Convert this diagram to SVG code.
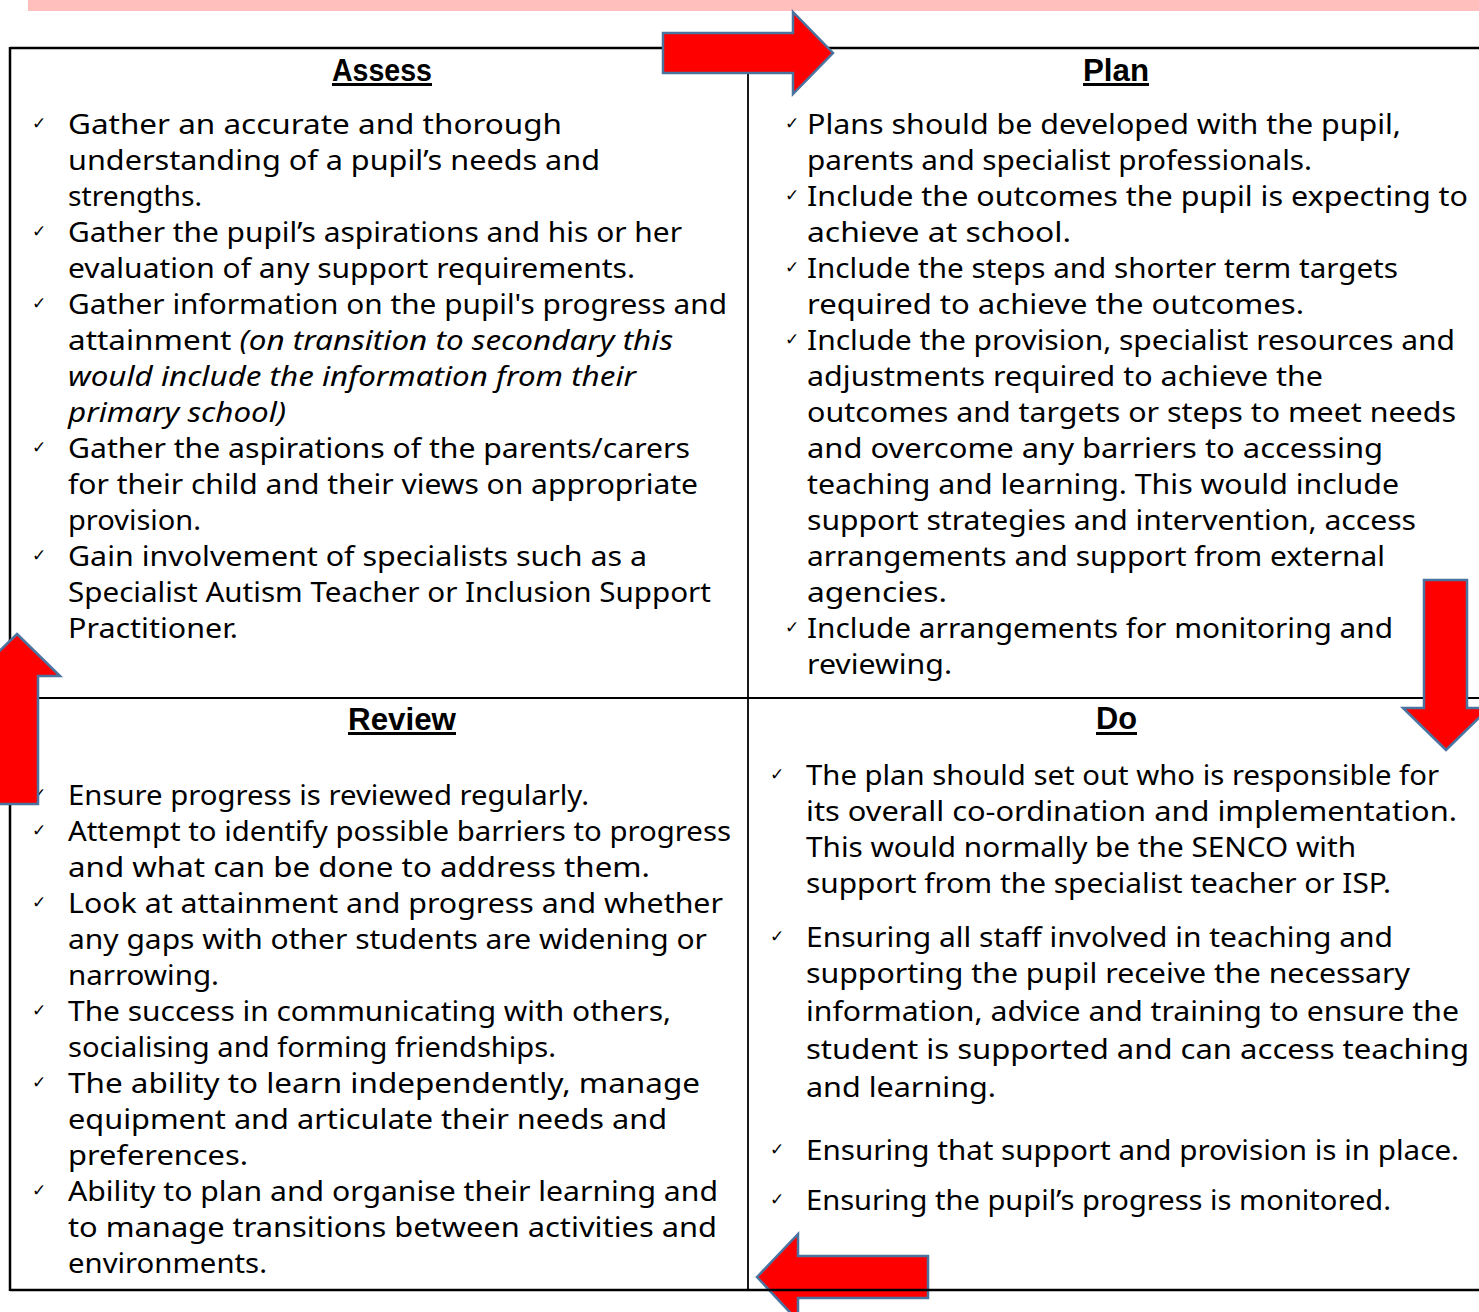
<svg xmlns="http://www.w3.org/2000/svg" width="1479" height="1312" viewBox="0 0 1479 1312">
  <style>
    .body { font-family: "Noto Sans", "Liberation Sans", sans-serif; font-size: 28px; fill: #000; }
    .it { font-style: italic; }
    .head { font-family: "Liberation Sans", "Noto Sans", sans-serif; font-size: 32px; font-weight: bold; fill: #000; }
    .tick { font-family: "DejaVu Sans", sans-serif; font-size: 17px; fill: #000; }
    .rule { stroke: #000; fill: none; }
    .arrow { fill: #FF0000; stroke: #4A74A0; stroke-width: 2.5; stroke-linejoin: miter; }
  </style>

  <!-- page banner -->
  <rect x="28" y="0" width="1451" height="11" fill="#FFBFBC"/>

  <!-- table rules -->
  <g id="table">
    <line class="rule" x1="10" y1="48" x2="1479" y2="48" stroke-width="2.5"/>
    <line class="rule" x1="10" y1="47" x2="10" y2="1291" stroke-width="2.5"/>
    <line class="rule" x1="748" y1="48" x2="748" y2="1290" stroke-width="1.8"/>
    <line class="rule" x1="10" y1="698" x2="1479" y2="698" stroke-width="2.2"/>
  </g>

  <!-- Assess -->
  <g id="assess">
    <text class="head" x="332" y="81" textLength="100" lengthAdjust="spacingAndGlyphs">Assess</text>
    <rect x="332" y="83" width="100" height="3"/>
    <g class="tick">
      <text x="32" y="129">✓</text>
      <text x="32" y="237">✓</text>
      <text x="32" y="309">✓</text>
      <text x="32" y="453">✓</text>
      <text x="32" y="561">✓</text>
    </g>
    <g class="body">
      <text x="68" y="134" textLength="494" lengthAdjust="spacingAndGlyphs">Gather an accurate and thorough</text>
      <text x="68" y="170" textLength="532" lengthAdjust="spacingAndGlyphs">understanding of a pupil’s needs and</text>
      <text x="68" y="206" textLength="134" lengthAdjust="spacingAndGlyphs">strengths.</text>
      <text x="68" y="242" textLength="614" lengthAdjust="spacingAndGlyphs">Gather the pupil’s aspirations and his or her</text>
      <text x="68" y="278" textLength="567" lengthAdjust="spacingAndGlyphs">evaluation of any support requirements.</text>
      <text x="68" y="314" textLength="659" lengthAdjust="spacingAndGlyphs">Gather information on the pupil's progress and</text>
      <text x="68" y="350" textLength="605" lengthAdjust="spacingAndGlyphs">attainment <tspan class="it">(on transition to secondary this</tspan></text>
      <text class="it" x="68" y="386" textLength="568" lengthAdjust="spacingAndGlyphs">would include the information from their</text>
      <text class="it" x="68" y="422" textLength="218" lengthAdjust="spacingAndGlyphs">primary school)</text>
      <text x="68" y="458" textLength="622" lengthAdjust="spacingAndGlyphs">Gather the aspirations of the parents/carers</text>
      <text x="68" y="494" textLength="630" lengthAdjust="spacingAndGlyphs">for their child and their views on appropriate</text>
      <text x="68" y="530" textLength="133" lengthAdjust="spacingAndGlyphs">provision.</text>
      <text x="68" y="566" textLength="579" lengthAdjust="spacingAndGlyphs">Gain involvement of specialists such as a</text>
      <text x="68" y="602" textLength="643" lengthAdjust="spacingAndGlyphs">Specialist Autism Teacher or Inclusion Support</text>
      <text x="68" y="638" textLength="170" lengthAdjust="spacingAndGlyphs">Practitioner.</text>
    </g>
  </g>

  <!-- Plan -->
  <g id="plan">
    <text class="head" x="1083" y="81" textLength="66" lengthAdjust="spacingAndGlyphs">Plan</text>
    <rect x="1083" y="83" width="66" height="3"/>
    <g class="tick">
      <text x="785" y="129">✓</text>
      <text x="785" y="201">✓</text>
      <text x="785" y="273">✓</text>
      <text x="785" y="345">✓</text>
      <text x="785" y="633">✓</text>
    </g>
    <g class="body">
      <text x="807" y="134" textLength="594" lengthAdjust="spacingAndGlyphs">Plans should be developed with the pupil,</text>
      <text x="807" y="170" textLength="505" lengthAdjust="spacingAndGlyphs">parents and specialist professionals.</text>
      <text x="807" y="206" textLength="661" lengthAdjust="spacingAndGlyphs">Include the outcomes the pupil is expecting to</text>
      <text x="807" y="242" textLength="264" lengthAdjust="spacingAndGlyphs">achieve at school.</text>
      <text x="807" y="278" textLength="591" lengthAdjust="spacingAndGlyphs">Include the steps and shorter term targets</text>
      <text x="807" y="314" textLength="497" lengthAdjust="spacingAndGlyphs">required to achieve the outcomes.</text>
      <text x="807" y="350" textLength="648" lengthAdjust="spacingAndGlyphs">Include the provision, specialist resources and</text>
      <text x="807" y="386" textLength="516" lengthAdjust="spacingAndGlyphs">adjustments required to achieve the</text>
      <text x="807" y="422" textLength="649" lengthAdjust="spacingAndGlyphs">outcomes and targets or steps to meet needs</text>
      <text x="807" y="458" textLength="576" lengthAdjust="spacingAndGlyphs">and overcome any barriers to accessing</text>
      <text x="807" y="494" textLength="592" lengthAdjust="spacingAndGlyphs">teaching and learning. This would include</text>
      <text x="807" y="530" textLength="609" lengthAdjust="spacingAndGlyphs">support strategies and intervention, access</text>
      <text x="807" y="566" textLength="578" lengthAdjust="spacingAndGlyphs">arrangements and support from external</text>
      <text x="807" y="602" textLength="140" lengthAdjust="spacingAndGlyphs">agencies.</text>
      <text x="807" y="638" textLength="586" lengthAdjust="spacingAndGlyphs">Include arrangements for monitoring and</text>
      <text x="807" y="674" textLength="145" lengthAdjust="spacingAndGlyphs">reviewing.</text>
    </g>
  </g>

  <!-- Review -->
  <g id="review">
    <text class="head" x="348" y="730" textLength="108" lengthAdjust="spacingAndGlyphs">Review</text>
    <rect x="348" y="732" width="108" height="3"/>
    <g class="tick">
      <text x="32" y="800">✓</text>
      <text x="32" y="836">✓</text>
      <text x="32" y="908">✓</text>
      <text x="32" y="1016">✓</text>
      <text x="32" y="1088">✓</text>
      <text x="32" y="1196">✓</text>
    </g>
    <g class="body">
      <text x="68" y="805" textLength="521" lengthAdjust="spacingAndGlyphs">Ensure progress is reviewed regularly.</text>
      <text x="68" y="841" textLength="663" lengthAdjust="spacingAndGlyphs">Attempt to identify possible barriers to progress</text>
      <text x="68" y="877" textLength="582" lengthAdjust="spacingAndGlyphs">and what can be done to address them.</text>
      <text x="68" y="913" textLength="655" lengthAdjust="spacingAndGlyphs">Look at attainment and progress and whether</text>
      <text x="68" y="949" textLength="639" lengthAdjust="spacingAndGlyphs">any gaps with other students are widening or</text>
      <text x="68" y="985" textLength="151" lengthAdjust="spacingAndGlyphs">narrowing.</text>
      <text x="68" y="1021" textLength="603" lengthAdjust="spacingAndGlyphs">The success in communicating with others,</text>
      <text x="68" y="1057" textLength="488" lengthAdjust="spacingAndGlyphs">socialising and forming friendships.</text>
      <text x="68" y="1093" textLength="632" lengthAdjust="spacingAndGlyphs">The ability to learn independently, manage</text>
      <text x="68" y="1129" textLength="599" lengthAdjust="spacingAndGlyphs">equipment and articulate their needs and</text>
      <text x="68" y="1165" textLength="180" lengthAdjust="spacingAndGlyphs">preferences.</text>
      <text x="68" y="1201" textLength="650" lengthAdjust="spacingAndGlyphs">Ability to plan and organise their learning and</text>
      <text x="68" y="1237" textLength="649" lengthAdjust="spacingAndGlyphs">to manage transitions between activities and</text>
      <text x="68" y="1273" textLength="199" lengthAdjust="spacingAndGlyphs">environments.</text>
    </g>
  </g>

  <!-- Do -->
  <g id="do">
    <text class="head" x="1096" y="729" textLength="41" lengthAdjust="spacingAndGlyphs">Do</text>
    <rect x="1096" y="732" width="41" height="3"/>
    <g class="tick">
      <text x="770" y="780">✓</text>
      <text x="770" y="942">✓</text>
      <text x="770" y="1155">✓</text>
      <text x="770" y="1205">✓</text>
    </g>
    <g class="body">
      <text x="806" y="785" textLength="633" lengthAdjust="spacingAndGlyphs">The plan should set out who is responsible for</text>
      <text x="806" y="821" textLength="651" lengthAdjust="spacingAndGlyphs">its overall co-ordination and implementation.</text>
      <text x="806" y="857" textLength="550" lengthAdjust="spacingAndGlyphs">This would normally be the SENCO with</text>
      <text x="806" y="893" textLength="585" lengthAdjust="spacingAndGlyphs">support from the specialist teacher or ISP.</text>
      <text x="806" y="947" textLength="587" lengthAdjust="spacingAndGlyphs">Ensuring all staff involved in teaching and</text>
      <text x="806" y="983" textLength="604" lengthAdjust="spacingAndGlyphs">supporting the pupil receive the necessary</text>
      <text x="806" y="1021" textLength="653" lengthAdjust="spacingAndGlyphs">information, advice and training to ensure the</text>
      <text x="806" y="1059" textLength="663" lengthAdjust="spacingAndGlyphs">student is supported and can access teaching</text>
      <text x="806" y="1097" textLength="190" lengthAdjust="spacingAndGlyphs">and learning.</text>
      <text x="806" y="1160" textLength="653" lengthAdjust="spacingAndGlyphs">Ensuring that support and provision is in place.</text>
      <text x="806" y="1210" textLength="585" lengthAdjust="spacingAndGlyphs">Ensuring the pupil’s progress is monitored.</text>
    </g>
  </g>

  <!-- cycle arrows, drawn over the cells -->
  <g id="connectors">
    <polygon id="arrow-assess-plan" class="arrow" points="663,33 793,33 793,12 833,53 793,94 793,73 663,73"/>
    <polygon id="arrow-plan-do" class="arrow" points="1424,580 1467,580 1467,708 1489,708 1446,750 1403,708 1424,708"/>
    <polygon id="arrow-do-review" class="arrow" points="757,1277 798,1234 798,1256 928,1256 928,1298 798,1298 798,1321"/>
    <polygon id="arrow-review-assess" class="arrow" points="17,634 60,676 38,676 38,804 -4,804 -4,676 -26,676"/>
  </g>

  <!-- bottom rule sits over the lower arrow -->
  <line class="rule" x1="10" y1="1290" x2="1479" y2="1290" stroke-width="2.5"/>
</svg>
